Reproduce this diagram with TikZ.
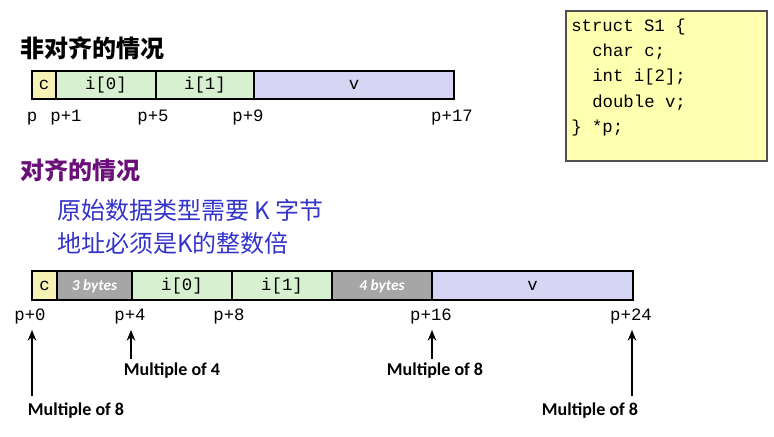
\documentclass[tikz,border=0pt]{standalone}
\usepackage{fontspec}
\usetikzlibrary{arrows.meta}
\setmainfont{Carlito}
\setmonofont{Liberation Mono}
\newfontfamily\cjkfont{Noto Sans CJK SC}
\newfontfamily\carlito{Carlito}
\definecolor{cfill}{RGB}{246,241,180}
\definecolor{ifill}{RGB}{214,240,208}
\definecolor{vfill}{RGB}{214,214,244}
\definecolor{padfill}{RGB}{166,166,166}
\definecolor{structfill}{RGB}{255,255,176}
\definecolor{headpurple}{RGB}{106,16,120}
\definecolor{textblue}{RGB}{51,51,204}
\begin{document}
\begin{tikzpicture}[x=0.75pt,y=-0.75pt,
  seg/.style={draw=black, line width=1.5pt, inner sep=0pt, outer sep=0pt, anchor=west,
    font=\fontsize{13}{15}\ttfamily, text height=1.55ex, text depth=0pt},
  padseg/.style={seg, fill=padfill, text=white, font=\fontsize{11.5}{14}\carlito\bfseries\itshape},
  addr/.style={anchor=base, inner sep=0pt, font=\fontsize{13}{15}\ttfamily},
  codeline/.style={anchor=base west, inner sep=0pt, font=\fontsize{13}{15}\ttfamily},
  multlabel/.style={inner sep=0pt, font=\fontsize{13.5}{16}\carlito\bfseries},
  arr/.style={line width=1.5pt, -{Stealth[length=8pt,width=6.5pt]}},
  heading/.style={anchor=west, inner sep=0pt, font=\fontsize{18}{22}\cjkfont\bfseries},
  bluetext/.style={anchor=west, inner sep=0pt, text=textblue, font=\fontsize{18}{22}\cjkfont}
]
\useasboundingbox (0,0) rectangle (774,436);

% struct box
\node[draw={rgb,255:red,80;green,80;blue,80}, line width=1.2pt, fill=structfill, inner sep=0pt, outer sep=0pt,
  minimum width={201*0.75pt}, minimum height={150*0.75pt}, anchor=north west] (sbox) at (566,11) {};
\node[codeline] (s1) at (571,31) {struct S1 \{};
\node[codeline] (s2) at (592,56) {char c;};
\node[codeline] (s3) at (592,81.5) {int i[2];};
\node[codeline] (s4) at (592,107) {double v;};
\node[codeline] (s5) at (571,132.5) {\} *p;};

% headings
\node[heading] (h1) at (20,48) {非对齐的情况};
\node[heading, text=headpurple] (h2) at (20,170) {对齐的情况};
\node[bluetext] (b1) at (57,210) {原始数据类型需要 K 字节};
\node[bluetext] (b2) at (57,243) {地址必须是K的整数倍};

% unaligned bar
\node[seg, fill=cfill, minimum width={24*0.75pt}, minimum height={28*0.75pt}] (tc) at (32,85) {c};
\node[seg, fill=ifill, minimum width={100*0.75pt}, minimum height={28*0.75pt}] (ti0) at (56,85) {i[0]};
\node[seg, fill=ifill, minimum width={98*0.75pt}, minimum height={28*0.75pt}] (ti1) at (156,85) {i[1]};
\node[seg, fill=vfill, minimum width={200*0.75pt}, minimum height={28*0.75pt}] (tv) at (254,85) {v};

\node[addr] (tp0) at (32,121) {p};
\node[addr] (tp1) at (66,121) {p+1};
\node[addr] (tp5) at (153,121) {p+5};
\node[addr] (tp9) at (248,121) {p+9};
\node[addr] (tp17) at (452,121) {p+17};

% aligned bar
\node[seg, fill=cfill, minimum width={25*0.75pt}, minimum height={29*0.75pt}] (bc) at (32,285.5) {c};
\node[padseg, minimum width={75*0.75pt}, minimum height={29*0.75pt}] (bp3) at (57,285.5) {3 bytes};
\node[seg, fill=ifill, minimum width={100*0.75pt}, minimum height={29*0.75pt}] (bi0) at (132,285.5) {i[0]};
\node[seg, fill=ifill, minimum width={100*0.75pt}, minimum height={29*0.75pt}] (bi1) at (232,285.5) {i[1]};
\node[padseg, minimum width={100*0.75pt}, minimum height={29*0.75pt}] (bp4) at (332,285.5) {4 bytes};
\node[seg, fill=vfill, minimum width={201*0.75pt}, minimum height={29*0.75pt}] (bv) at (432,285.5) {v};

\node[addr] (bp0) at (30,320) {p+0};
\node[addr] (bpa4) at (130,320) {p+4};
\node[addr] (bpa8) at (229,320) {p+8};
\node[addr] (bpa16) at (431,320) {p+16};
\node[addr] (bpa24) at (631,320) {p+24};

% arrows and labels
\coordinate (a1s) at (32,396); \coordinate (a1e) at (32,330);
\coordinate (a2s) at (131,359); \coordinate (a2e) at (131,330);
\coordinate (a3s) at (432,359); \coordinate (a3e) at (432,330);
\coordinate (a4s) at (632,396); \coordinate (a4e) at (632,330);
\draw[arr] (a1s) -- (a1e);
\draw[arr] (a2s) -- (a2e);
\draw[arr] (a3s) -- (a3e);
\draw[arr] (a4s) -- (a4e);
\node[multlabel] (m1) at (76,411) {Multiple of 8};
\node[multlabel] (m2) at (172,371) {Multiple of 4};
\node[multlabel] (m3) at (435,371) {Multiple of 8};
\node[multlabel] (m4) at (590,411) {Multiple of 8};
\end{tikzpicture}
\end{document}
